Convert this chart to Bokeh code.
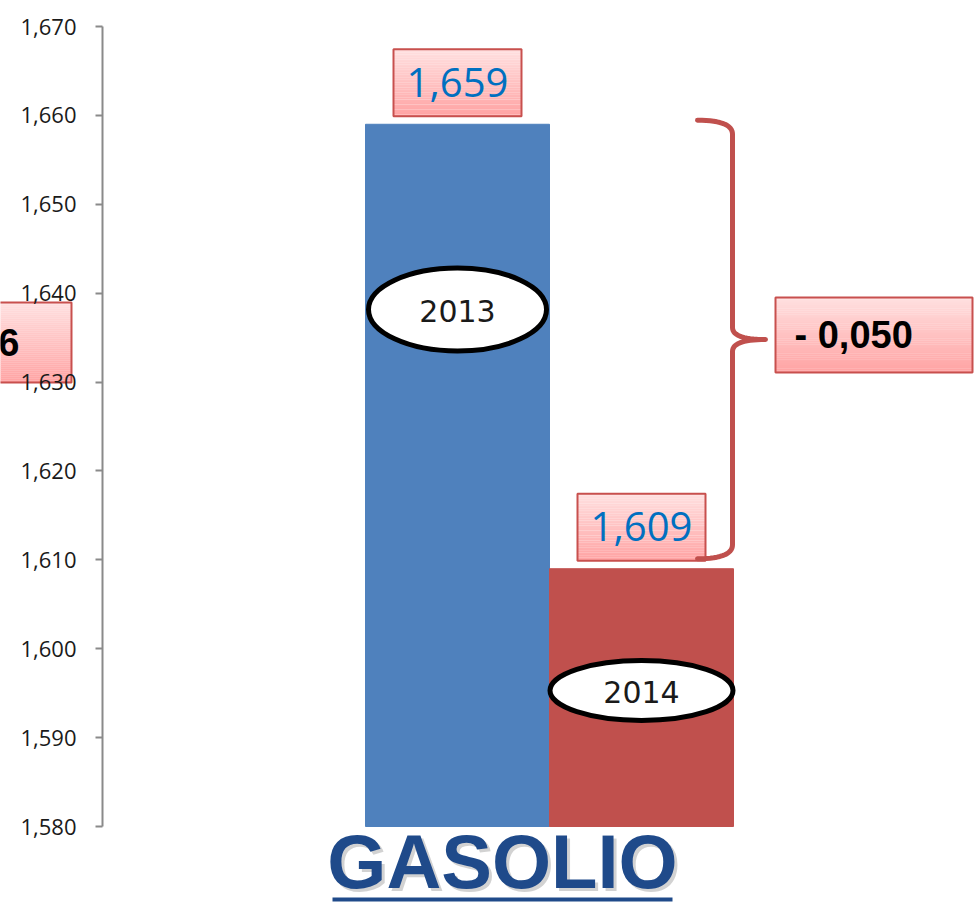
import numpy as np
from bokeh.plotting import figure
from bokeh.models import Range1d, FixedTicker, ColumnDataSource, CustomJSTickFormatter
from bokeh.core.properties import value
from bokeh.embed import file_html
from bokeh.resources import INLINE

# ---------------- data ----------------
years = ["2013", "2014"]
prices = [1.659, 1.609]
price_labels = ["1,659", "1,609"]
bar_colors = ["#4F81BD", "#C0504D"]
delta_label = "- 0,050"
prev_delta_fragment = "6"
title_text = "GASOLIO"
y_ticks = [1.58, 1.59, 1.60, 1.61, 1.62, 1.63, 1.64, 1.65, 1.66, 1.67]
y_tick_labels = ["1,580", "1,590", "1,600", "1,610", "1,620",
                 "1,630", "1,640", "1,650", "1,660", "1,670"]

# ---------------- layout helpers ----------------
W, H = 978, 906
AXIS_X_PX = 102          # where the value axis sits
BAR0_PX = 365            # left edge of first bar
BAR_PX = 184.0
PPU = 800.0 / (y_ticks[-1] - y_ticks[0])


def dx(px):
    return px / BAR_PX


def dy(px):
    return px / PPU


x_range = Range1d(-dx(BAR0_PX), dx(W - BAR0_PX))
y_range = Range1d(y_ticks[0] - dy(80), y_ticks[-1] + dy(26))

p = figure(width=W, height=H, x_range=x_range, y_range=y_range,
           output_backend="svg", toolbar_location=None,
           x_axis_location=None,
           min_border_left=0, min_border_right=0,
           min_border_top=0, min_border_bottom=0,
           outline_line_color=None, background_fill_color="white")
p.grid.visible = False

ax = p.yaxis[0]
ax.fixed_location = -dx(BAR0_PX - AXIS_X_PX)
ax.ticker = FixedTicker(ticks=y_ticks)
ax.bounds = (y_ticks[0], y_ticks[-1])
ax.formatter = CustomJSTickFormatter(
    args=dict(tvals=y_ticks, tlabels=y_tick_labels),
    code="""
    for (let i = 0; i < tvals.length; i++) {
        if (Math.abs(tvals[i] - tick) < 1e-9) return tlabels[i];
    }
    return '';
    """)
ax.axis_line_color = "#8a8a8a"
ax.axis_line_width = 2
ax.major_tick_line_color = "#8a8a8a"
ax.major_tick_line_width = 2
ax.major_tick_out = 7
ax.major_tick_in = 0
ax.minor_tick_line_color = None
ax.major_label_text_font = "Open Sans"
ax.major_label_text_font_size = "22px"
ax.major_label_text_color = "#1a1a1a"
ax.major_label_standoff = 19


# ---------------- gradient boxes ----------------
def grad_box(left, right, bottom, top, n=40, c_top=(255, 224, 224), c_bot=(255, 163, 163)):
    hs = np.linspace(bottom, top, n + 1)
    lefts, rights, bots, tops, cols = [], [], [], [], []
    for i in range(n):
        t = (i + 0.5) / n  # 0 bottom -> 1 top
        c = tuple(int(round(c_bot[k] + (c_top[k] - c_bot[k]) * t)) for k in range(3))
        lefts.append(left)
        rights.append(right)
        bots.append(hs[i])
        tops.append(hs[i + 1] + (top - bottom) * 0.002)
        cols.append("#%02x%02x%02x" % c)
    p.quad(left=lefts, right=rights, bottom=bots, top=tops, fill_color=cols, line_color=None)
    p.quad(left=[left], right=[right], bottom=[bottom], top=[top],
           fill_color=None, line_color="#C8504E", line_width=2)


# ---------------- fragment of previous chart's box (left edge) ----------------
frag_c = y_ticks[0] + dy(484)
grad_box(-dx(BAR0_PX + 40), -dx(BAR0_PX - 71), frag_c - dy(40), frag_c + dy(40))
p.text(x=[-dx(BAR0_PX - 19)], y=[frag_c], text=[prev_delta_fragment],
       text_align="right", text_baseline="middle",
       text_font=value("Liberation Sans"), text_font_style="bold",
       text_font_size="38px", text_color="black")

# ---------------- bars ----------------
bar_x = [0.5, 1.5]
src = ColumnDataSource(dict(x=bar_x, top=prices, color=bar_colors,
                            label=price_labels, year=years))
p.vbar(x="x", width=1.0, bottom=y_ticks[0], top="top", color="color", source=src)

for xi, v in zip(bar_x, prices):
    grad_box(xi - dx(64), xi + dx(64), v + dy(8), v + dy(75))

p.text(x=bar_x, y=[v + dy(42) for v in prices], text=price_labels,
       text_align="center", text_baseline="middle",
       text_font=value("Open Sans"), text_font_size="40px", text_color="#0070C0")

# ---------------- year ellipses ----------------
ell_y = [y_ticks[0] + dy(517), y_ticks[0] + dy(136)]
p.ellipse(x=bar_x, y=ell_y, width=[178, 183], height=[83, 60],
          width_units="screen", height_units="screen",
          fill_color="white", line_color="black", line_width=5)
p.text(x=bar_x, y=[e - dy(1) for e in ell_y], text=years, text_align="center",
       text_baseline="middle",
       text_font=value("DejaVu Sans"), text_font_size="30px", text_color="#1a1a1a")

# ---------------- brace ----------------
x_v = 2.0 - dx(1)
x_end = 2.0 - dx(36)
x_tip = 2.0 + dx(32)
y_top = prices[0] + dy(4)
y_bot = prices[1] + dy(10)
y_mid = (y_top + y_bot) / 2


def qbez(p0, c, p1, n=16):
    t = np.linspace(0, 1, n)
    xs = (1 - t) ** 2 * p0[0] + 2 * (1 - t) * t * c[0] + t ** 2 * p1[0]
    ys = (1 - t) ** 2 * p0[1] + 2 * (1 - t) * t * c[1] + t ** 2 * p1[1]
    return list(xs), list(ys)


bx, by = [], []
for seg in [qbez((x_end, y_top), (x_v, y_top), (x_v, y_top - dy(14))),
            ([x_v, x_v], [y_top - dy(14), y_mid + dy(12)]),
            qbez((x_v, y_mid + dy(12)), (x_v, y_mid), (x_tip, y_mid)),
            qbez((x_tip, y_mid), (x_v, y_mid), (x_v, y_mid - dy(12))),
            ([x_v, x_v], [y_mid - dy(12), y_bot + dy(14)]),
            qbez((x_v, y_bot + dy(14)), (x_v, y_bot), (x_end, y_bot))]:
    bx += list(seg[0])
    by += list(seg[1])
p.line(bx, by, line_color="#C0504D", line_width=5, line_join="round", line_cap="round")

# ---------------- delta box ----------------
y_c = y_mid + dy(4.5)
grad_box(2.0 + dx(42), 2.0 + dx(239), y_c - dy(37.5), y_c + dy(37.5))
p.text(x=[2.0 + dx(61)], y=[y_c], text=[delta_label], text_align="left",
       text_baseline="middle", text_font=value("Liberation Sans"),
       text_font_style="bold", text_font_size="38px", text_color="black")

# ---------------- GASOLIO title ----------------
gx = 0.5 + dx(45)
gy = y_ticks[0] - dy(35)
p.text(x=[gx + dx(3)], y=[gy - dy(3)], text=[title_text], text_align="center",
       text_baseline="middle", text_font=value("Liberation Sans"),
       text_font_style="bold", text_font_size="76px", text_color="#7f7f7f",
       text_alpha=0.35)
p.text(x=[gx], y=[gy], text=[title_text], text_align="center",
       text_baseline="middle", text_font=value("Liberation Sans"),
       text_font_style="bold", text_font_size="76px", text_color="#1F4A8A")
p.quad(left=[0.5 - dx(125)], right=[0.5 + dx(215)],
       bottom=[y_ticks[0] - dy(75)], top=[y_ticks[0] - dy(71)],
       fill_color="#1F4A8A", line_color=None)

open("out.html", "w").write(file_html(p, INLINE))
